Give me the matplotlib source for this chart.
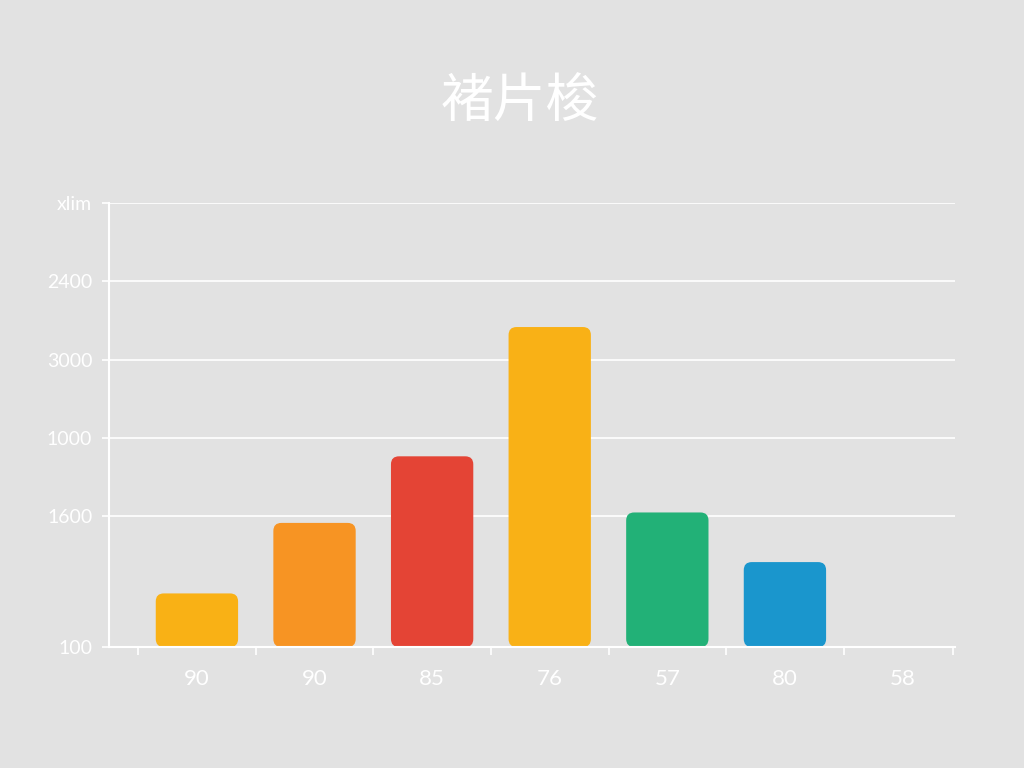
import matplotlib
matplotlib.use("Agg")
import matplotlib.pyplot as plt
from matplotlib.patches import FancyBboxPatch
from matplotlib.ticker import FixedLocator

# ─── data ────────────────────────────────────────────────────────────────────
categories = ["90", "90", "85", "76", "57", "80", "58"]
values     = [410, 950, 1460, 2450, 1030, 650, 0]
colors     = ["#F9B115", "#F79423", "#E44435", "#F9B116", "#22B177", "#1A96CD", "#E2E2E2"]
ytick_vals   = [0, 1000, 1600, 2200, 2800, 3400]
ytick_labels = ["100", "1600", "1000", "3000", "2400", "xlim"]
title = "褚片梭"

BG = "#E2E2E2"
FG = "white"

fig = plt.figure(figsize=(10.24, 7.68), dpi=100, facecolor=BG)
ax = fig.add_axes([0.1064, 0.1576, 0.8262, 0.5781], facecolor=BG)

xs = list(range(len(categories)))
bars = ax.bar(xs, values, width=0.70, color=colors)
ax.set_xlim(-0.748, 6.446)
ax.set_ylim(0, 3400)

# rounded bars: swap each rectangle for a rounded box of the same geometry
x_per_px = (6.446 + 0.748) / (0.8262 * 1024)
y_per_px = 3400 / (0.5781 * 768)
for b, c, v in zip(bars, colors, values):
    b.set_visible(False)
    if v <= 0:
        continue
    p = FancyBboxPatch((b.get_x(), b.get_y()), b.get_width(), b.get_height(),
                       boxstyle=f"round,pad=0,rounding_size={8 * x_per_px:.4f}",
                       mutation_aspect=y_per_px / x_per_px,
                       facecolor=c, edgecolor="none", zorder=3)
    ax.add_patch(p)

ax.grid(axis="y", color=FG, lw=1.2, zorder=1)
ax.set_axisbelow(True)
for s in ["top", "right"]:
    ax.spines[s].set_visible(False)
for s in ["left", "bottom"]:
    ax.spines[s].set_color(FG)
    ax.spines[s].set_linewidth(1.5)
    ax.spines[s].set_zorder(4)

ax.set_yticks(ytick_vals)
ax.set_yticklabels(ytick_labels, fontsize=14, color=FG, family="Lato")
ax.tick_params(axis="y", colors=FG, length=5, width=1.2, pad=7)

ax.set_xticks(xs)
ax.set_xticklabels(categories, fontsize=16, color=FG, family="Lato")
ax.tick_params(axis="x", which="major", length=0, pad=16, colors=FG)
ax.xaxis.set_minor_locator(FixedLocator([i - 0.5 for i in xs] + [6.43]))
ax.tick_params(axis="x", which="minor", length=6, width=1.2, color=FG)

fig.text(0.508, 0.867, title, ha="center", va="center", fontsize=38,
         color=FG, family=["Noto Sans CJK SC", "DejaVu Sans"], weight="light")

fig.savefig("out.png", dpi=100, facecolor=BG)
